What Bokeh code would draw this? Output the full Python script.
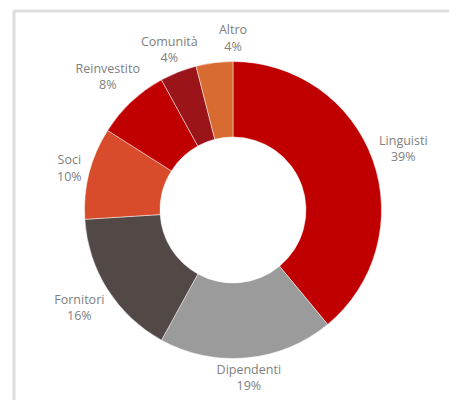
import math
from bokeh.plotting import figure
from bokeh.models import ColumnDataSource, BoxAnnotation, Range1d
from bokeh.core.properties import value
from bokeh.embed import file_html
from bokeh.resources import INLINE

# ---- data ----
categories = ["Linguisti", "Dipendenti", "Fornitori", "Soci", "Reinvestito", "Comunità", "Altro"]
shares = [39, 19, 16, 10, 8, 4, 4]
colors = ["#c00000", "#9b9b9b", "#524846", "#d84b2b", "#c00000", "#9b141a", "#d86b31"]

# ---- layout (not data) ----
W, H = 449, 400
cx, cy = 232.5, H - 209.5
r_in, r_out = 73, 148.5
label_r = [181, 168, 182, 169, 183, 173, 172]
label_shift_deg = [0, 0, 0, 0, 0, 0, 7.2]

total = float(sum(shares))
starts, ends, lx, ly, texts = [], [], [], [], []
cum = 0.0
for i, v in enumerate(shares):
    f0 = cum / total
    cum += v
    f1 = cum / total
    starts.append(math.pi / 2 - 2 * math.pi * f0)
    ends.append(math.pi / 2 - 2 * math.pi * f1)
    mid = (f0 + f1) / 2 * 360 + label_shift_deg[i]
    a = math.radians(mid)
    lx.append(cx + label_r[i] * math.sin(a))
    ly.append(cy + label_r[i] * math.cos(a))
    texts.append(f"{categories[i]}\n{v}%")

src = ColumnDataSource(dict(start=starts, end=ends, color=colors,
                            lx=lx, ly=ly, text=texts))

p = figure(width=W, height=H, output_backend="svg", toolbar_location=None,
           x_range=Range1d(0, W), y_range=Range1d(0, H),
           x_axis_location=None, y_axis_location=None, min_border=0,
           outline_line_color=None, background_fill_color="white",
           border_fill_color="white")
p.grid.visible = False

p.annular_wedge(x=cx, y=cy, inner_radius=r_in, outer_radius=r_out,
                start_angle="start", end_angle="end", direction="clock",
                fill_color="color", line_color="white", line_width=0.6,
                line_alpha=0.8, source=src)

p.text(x="lx", y="ly", text="text", source=src, text_align="center",
       text_baseline="middle", text_color="#808080", text_font_size="12.5px",
       text_font=value("Open Sans"), text_line_height=0.95)

p.add_layout(BoxAnnotation(left=13.5, right=W + 20, top=H - 10.5, bottom=-20,
                           fill_alpha=0, line_color="#8e8e8e", line_width=3))

open("out.html", "w").write(file_html(p, INLINE))
